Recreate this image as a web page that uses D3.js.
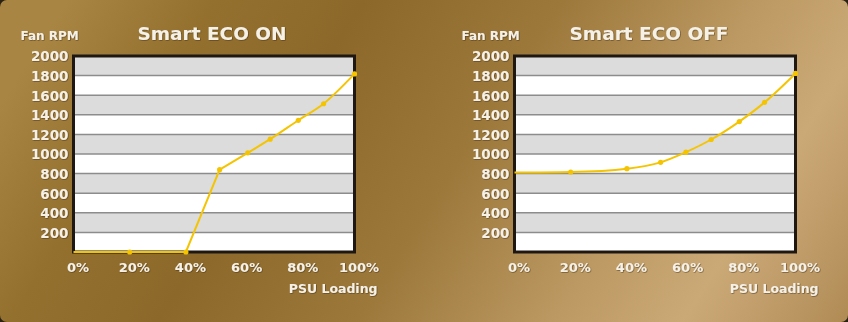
<!DOCTYPE html>
<html>
<head>
<meta charset="utf-8">
<script src="https://cdn.jsdelivr.net/npm/d3@7"></script>
<style>
  body { margin: 0; background: #2b2113; }
  svg text { font-family: "DejaVu Sans", sans-serif; fill: #f6f1e6; }
</style>
</head>
<body>
<div id="chart"></div>
<script>
// data
var titles = ["Smart ECO ON", "Smart ECO OFF"];
var loadOn = [0, 20, 40, 52, 62, 70, 80, 89, 100];
var rpmOn = [0, 0, 0, 840, 1012, 1151, 1344, 1513, 1817];
var loadOff = [0, 20, 40, 52, 61, 70, 80, 89, 100];
var rpmOff = [810, 816, 850, 915, 1019, 1148, 1331, 1527, 1822];
var xTicks = [0, 20, 40, 60, 80, 100];
var yTicks = [200, 400, 600, 800, 1000, 1200, 1400, 1600, 1800, 2000];
var yLabel = "Fan RPM";
var xLabel = "PSU Loading";

var W = 848, H = 322;

var svg = d3.select("#chart").append("svg")
    .attr("width", W)
    .attr("height", H);

var defs = svg.append("defs");
var grad = defs.append("linearGradient")
    .attr("id", "bg")
    .attr("gradientUnits", "userSpaceOnUse")
    .attr("x1", 100).attr("y1", -50)
    .attr("x2", 800).attr("y2", 400);
[["0", "#a98544"], ["0.15", "#94702f"], ["0.3", "#8c692a"], ["0.5", "#9c783b"],
 ["0.7", "#bc9962"], ["0.83", "#cba977"], ["0.95", "#b89460"], ["1", "#b08a52"]]
    .forEach(s => grad.append("stop").attr("offset", s[0]).attr("stop-color", s[1]));

var shadow = defs.append("filter").attr("id", "ts")
    .attr("x", "-10%").attr("y", "-30%").attr("width", "120%").attr("height", "160%");
shadow.append("feDropShadow")
    .attr("dx", 0.6).attr("dy", 0.6).attr("stdDeviation", 0.6)
    .attr("flood-color", "#3a2708").attr("flood-opacity", 0.7);

svg.append("rect")
    .attr("width", W).attr("height", H)
    .attr("rx", 7)
    .attr("fill", "url(#bg)");

var panels = [
    { title: titles[0], load: loadOn, rpm: rpmOn, left: 73.5, titleX: 212 },
    { title: titles[1], load: loadOff, rpm: rpmOff, left: 514.5, titleX: 649 }
];

var plotW = 281, plotTop = 56, plotBottom = 252;

var y = d3.scaleLinear().domain([0, 2000]).range([plotBottom, plotTop]);

panels.forEach(function (p, pi) {
    var x = d3.scaleLinear().domain([0, 100]).range([p.left, p.left + plotW]);
    var g = svg.append("g");

    // alternating bands
    var bands = d3.range(0, 2000, 200);
    g.selectAll(".band")
        .data(bands)
        .enter()
        .append("rect")
        .attr("x", x(0))
        .attr("width", x(100) - x(0))
        .attr("y", d => y(d + 200))
        .attr("height", d => y(d) - y(d + 200))
        .attr("fill", d => (d / 200) % 2 === 1 ? "#dcdcdc" : "#ffffff");

    // grid
    g.selectAll(".grid")
        .data(yTicks.slice(0, -1))
        .enter()
        .append("line")
        .attr("x1", x(0)).attr("x2", x(100))
        .attr("y1", d => y(d)).attr("y2", d => y(d))
        .attr("stroke", "#8c8c8c")
        .attr("stroke-width", 1.5);

    // frame
    g.append("rect")
        .attr("x", x(0)).attr("y", plotTop)
        .attr("width", x(100) - x(0)).attr("height", plotBottom - plotTop)
        .attr("fill", "none")
        .attr("stroke", "#1f1812")
        .attr("stroke-width", 3);

    // axes
    var yAxis = g.append("g")
        .attr("transform", "translate(" + (x(0) - 5) + ",0)")
        .call(d3.axisLeft(y).tickValues(yTicks).tickSize(0).tickPadding(0)
            .tickFormat(d3.format("d")));
    yAxis.select(".domain").remove();
    yAxis.selectAll("text")
        .attr("font-size", 13.5)
        .attr("font-weight", "bold")
        .attr("fill", "#f6f1e6")
        .attr("filter", "url(#ts)")
        .attr("dy", "0.36em");

    var xAxis = g.append("g")
        .attr("transform", "translate(4," + (plotBottom + 10) + ")")
        .call(d3.axisBottom(x).tickValues(xTicks).tickSize(0).tickPadding(0)
            .tickFormat(d => d + "%"));
    xAxis.select(".domain").remove();
    xAxis.selectAll("text")
        .attr("font-size", 13)
        .attr("font-weight", "bold")
        .attr("fill", "#f6f1e6")
        .attr("filter", "url(#ts)")
        .attr("dy", "0.75em");

    // labels
    g.append("text")
        .attr("x", p.left - 53)
        .attr("y", 40)
        .attr("font-size", 12)
        .attr("font-weight", "bold")
        .attr("filter", "url(#ts)")
        .text(yLabel);

    g.append("text")
        .attr("x", x(100) + 23)
        .attr("y", 293)
        .attr("text-anchor", "end")
        .attr("font-size", 12.5)
        .attr("font-weight", "bold")
        .attr("filter", "url(#ts)")
        .text(xLabel);

    g.append("text")
        .attr("x", p.titleX)
        .attr("y", 40)
        .attr("text-anchor", "middle")
        .attr("font-size", 18.5)
        .attr("font-weight", "bold")
        .attr("filter", "url(#ts)")
        .text(p.title);

    // series
    var pts = p.load.map((d, i) => ({ load: d, rpm: p.rpm[i] }));
    var lineLin = d3.line().x(d => x(d.load)).y(d => y(d.rpm));
    var lineSmooth = d3.line().x(d => x(d.load)).y(d => y(d.rpm)).curve(d3.curveMonotoneX);

    if (pi === 0) {
        // flat then a straight climb, smooth after 50%
        g.append("path").datum(pts.slice(0, 4))
            .attr("d", lineLin)
            .attr("fill", "none").attr("stroke", "#f5c400").attr("stroke-width", 2);
        g.append("path").datum(pts.slice(3))
            .attr("d", lineSmooth)
            .attr("fill", "none").attr("stroke", "#f5c400").attr("stroke-width", 2);
    } else {
        g.append("path").datum(pts)
            .attr("d", lineSmooth)
            .attr("fill", "none").attr("stroke", "#f5c400").attr("stroke-width", 2);
    }

    g.selectAll(".dot")
        .data(pts.slice(1))
        .enter()
        .append("circle")
        .attr("cx", d => x(d.load))
        .attr("cy", d => y(d.rpm))
        .attr("r", 2.6)
        .attr("fill", "#f5c400");
});
</script>
</body>
</html>
